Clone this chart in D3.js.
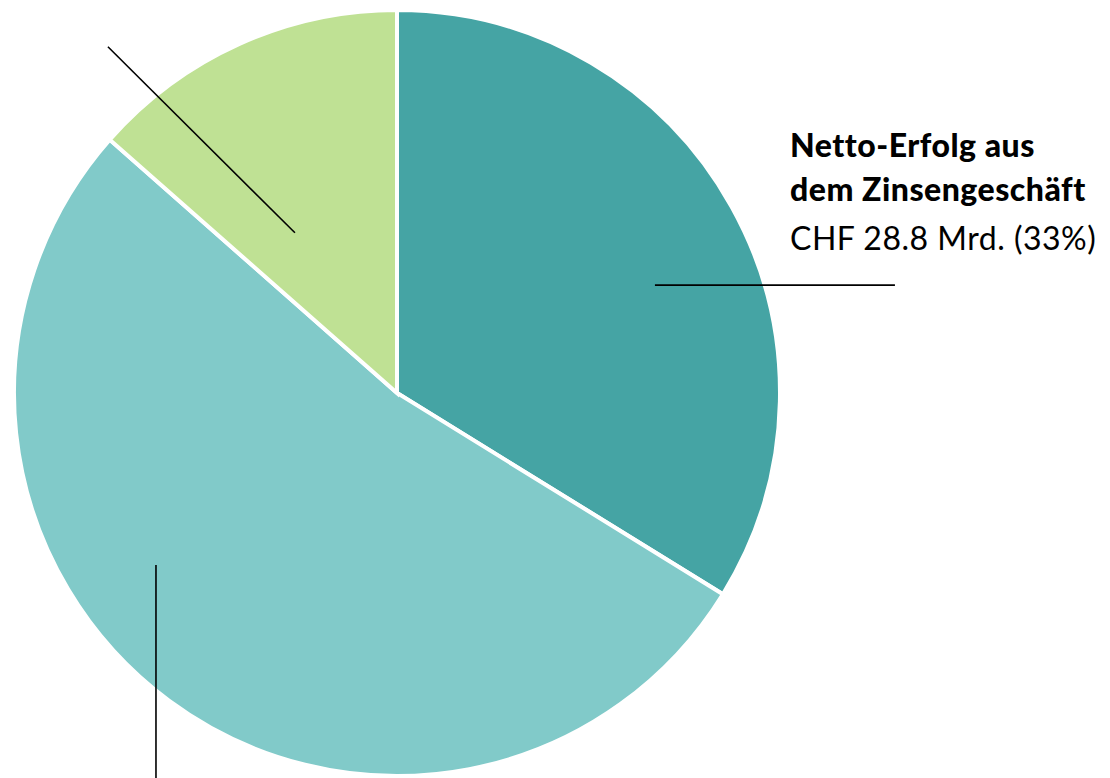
<!DOCTYPE html>
<html><head><meta charset="utf-8">
<script src="https://cdn.jsdelivr.net/npm/d3@7"></script>
<style>html,body{margin:0;padding:0;background:#fff;}svg{display:block;}</style>
</head><body>
<svg id="chart" width="1110" height="778"></svg>
<script>
const categories = ["Netto-Erfolg aus dem Zinsengeschäft", "Übrige Erträge", "Handelserfolg"];
const values = [28.8, 44.9, 11.5];
const colors = ["#45a4a4", "#81cac9", "#bfe194"];
const labelTitle = ["Netto-Erfolg aus", "dem Zinsengeschäft"];
const labelValue = "CHF 28.8 Mrd. (33%)";

const svg = d3.select("#chart");
const cx = 397, cy = 393, r = 383;
const g = svg.append("g").attr("transform", `translate(${cx},${cy})`);
const pie = d3.pie().sort(null).value(d => d);
const arcs = pie(values);
const arc = d3.arc().innerRadius(0).outerRadius(r);
g.selectAll("path").data(arcs).join("path")
  .attr("d", arc).attr("fill", (d, i) => colors[i])
  .attr("stroke", "#fff").attr("stroke-width", 4).attr("stroke-linejoin", "miter");

// leader lines (polar helper)
const pol = (deg, rad) => [Math.sin(deg * Math.PI / 180) * rad, -Math.cos(deg * Math.PI / 180) * rad];
const p1 = pol(67.3, 0.73 * r);
g.append("line").attr("x1", p1[0]).attr("y1", p1[1]).attr("x2", p1[0] + 240).attr("y2", p1[1])
  .attr("stroke", "#000").attr("stroke-width", 1.6);
const p2 = pol(234.5, 0.773 * r);
g.append("line").attr("x1", p2[0]).attr("y1", p2[1]).attr("x2", p2[0]).attr("y2", p2[1] + 230)
  .attr("stroke", "#000").attr("stroke-width", 1.6);
const p3 = pol(327.5, 0.496 * r);
g.append("line").attr("x1", p3[0]).attr("y1", p3[1]).attr("x2", p3[0] - 187).attr("y2", p3[1] - 186)
  .attr("stroke", "#000").attr("stroke-width", 1.6);

const t = svg.append("text").attr("font-family", "Lato, sans-serif").attr("fill", "#000")
  .attr("font-size", 32).attr("letter-spacing", 0.5);
t.append("tspan").attr("x", 790).attr("y", 157).attr("font-weight", 900).text(labelTitle[0]);
t.append("tspan").attr("x", 790).attr("y", 201).attr("font-weight", 900).text(labelTitle[1]);
t.append("tspan").attr("x", 790).attr("y", 250).attr("font-weight", 400).text(labelValue);
</script>
</body></html>
